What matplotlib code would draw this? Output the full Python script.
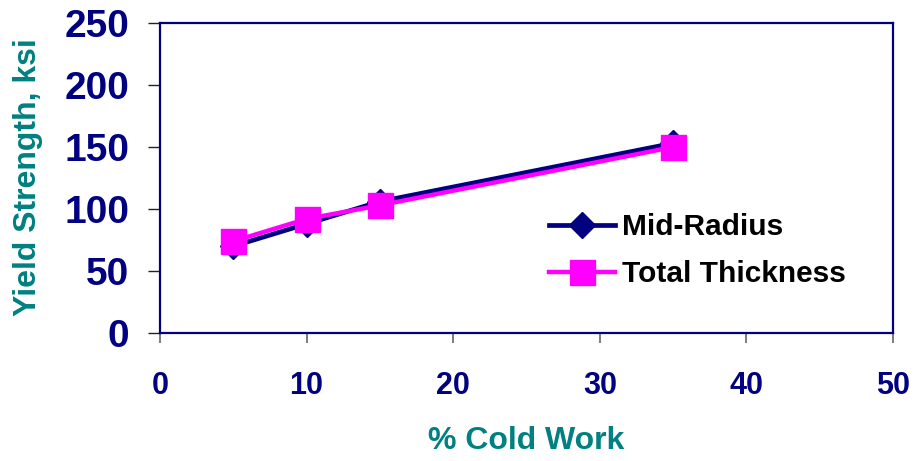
import matplotlib.pyplot as plt

plt.rcParams['font.family'] = ['Liberation Sans', 'DejaVu Sans']
plt.rcParams['font.weight'] = 'bold'

# yield strength vs cold work
cold_work = [5, 10, 15, 35]
mid_radius = [70, 88, 106, 153]
total_thickness = [74, 92, 103, 150]

x_ticks = [0, 10, 20, 30, 40, 50]
y_ticks = [0, 50, 100, 150, 200, 250]

navy = '#000080'
teal = '#008080'

fig = plt.figure(figsize=(9.16, 4.61), dpi=100)
ax = fig.add_axes([160 / 916, 1 - 333 / 461, 733 / 916, 310 / 461])

ax.plot(cold_work, mid_radius, color=navy, lw=3.4, marker='D', ms=13,
        label='Mid-Radius')
ax.plot(cold_work, total_thickness, color='#FF00FF', lw=3.2, marker='s', ms=18,
        label='Total Thickness')

ax.set_xlim(0, 50)
ax.set_ylim(0, 250)
ax.set_xticks(x_ticks)
ax.set_yticks(y_ticks)

for s in ax.spines.values():
    s.set_color(navy)
    s.set_linewidth(1.6)

ax.tick_params(axis='y', direction='out', length=9, width=1, color='#222222',
               labelsize=28, labelcolor=navy, pad=13)
ax.tick_params(axis='x', direction='out', length=7, width=1.2, color='#666666',
               labelsize=22, labelcolor=navy, pad=20)
for lbl in ax.get_xticklabels() + ax.get_yticklabels():
    lbl.set_fontweight('bold')

ax.set_xlabel('% Cold Work', fontsize=23, color=teal, fontweight='bold', labelpad=18)
fig.text(28 / 916, 1 - 177 / 461, 'Yield Strength, ksi', rotation=90,
         ha='center', va='center', fontsize=23, color=teal, fontweight='bold')

leg = ax.legend(loc='upper left', bbox_to_anchor=(549 / 916, 1 - 213 / 461),
                bbox_transform=fig.transFigure, frameon=False, fontsize=21.5,
                handlelength=2.2, handletextpad=0.25, borderpad=0,
                borderaxespad=0, labelspacing=0.64)
for t in leg.get_texts():
    t.set_fontweight('bold')

fig.savefig('out.png', dpi=100)
